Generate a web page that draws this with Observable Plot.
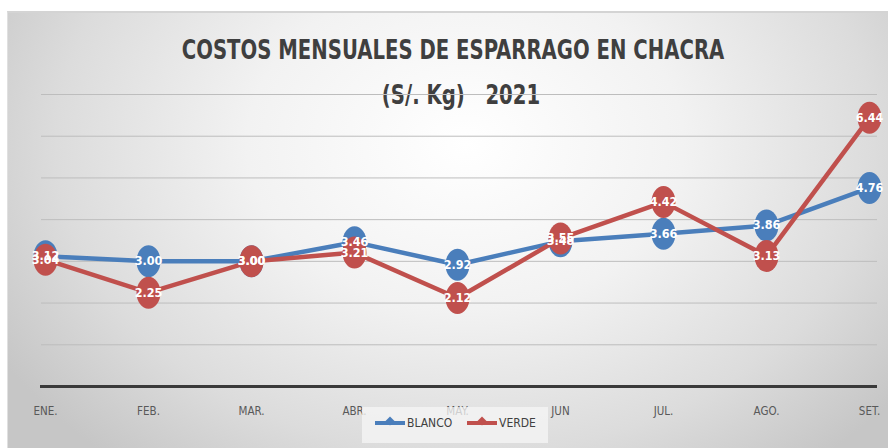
<!DOCTYPE html>
<html>
<head>
<meta charset="utf-8">
<script src="https://cdn.jsdelivr.net/npm/d3@7"></script>
<script src="https://cdn.jsdelivr.net/npm/@observablehq/plot@0.6"></script>
<style>
  html, body { margin: 0; padding: 0; background: #ffffff; }
  #wrap { position: relative; width: 888px; height: 448px; overflow: hidden; }
  #bg { position: absolute; left: 7px; top: 11px; right: 0; bottom: 0;
        background: radial-gradient(ellipse 62% 95% at 52% 30%, #ffffff 0%, #f2f2f2 40%, #dcdcdc 75%, #c6c6c6 100%);
        border-top: 2px solid #d4d4d4; border-left: 1px solid #e0e0e0; }
  .title { position: absolute; left: 0; width: 906px; text-align: center;
           font-family: "DejaVu Sans Condensed", sans-serif; font-weight: bold;
           color: #3f3f3f; font-size: 27px; transform: scaleX(0.81); }
  #chart { position: absolute; left: 0; top: 0; }
  #legend { position: absolute; left: 362px; top: 407px; width: 186px; height: 36px;
            background: rgba(245,245,245,0.75); }
  .lg { position: absolute; top: 9px; font-family: "DejaVu Sans Condensed", sans-serif;
        font-size: 12px; color: #404040; display: flex; align-items: center; }
  .sw { width: 30px; height: 4px; position: relative; margin-right: 2px; }
  .sw i { position: absolute; left: 11px; top: -4px; width: 8px; height: 8px; transform: rotate(45deg) scale(0.8); }
</style>
</head>
<body>
<div id="wrap">
  <div id="bg"></div>
  <div class="title" style="top:34px;">COSTOS MENSUALES DE ESPARRAGO EN CHACRA</div>
  <div class="title" style="top:79px; left:8px;">(S/. Kg)&nbsp;&nbsp; 2021</div>
  <div id="chart"></div>
  <div id="legend">
    <div class="lg" style="left:13px;"><span class="sw" style="background:#4a7ebb"><i style="background:#4a7ebb"></i></span>BLANCO</div>
    <div class="lg" style="left:105px;"><span class="sw" style="background:#c0504d"><i style="background:#c0504d"></i></span>VERDE</div>
  </div>
</div>
<script>
const months = ["ENE.", "FEB.", "MAR.", "ABR.", "MAY.", "JUN", "JUL.", "AGO.", "SET."];
const blanco = [3.12, 3.00, 3.00, 3.46, 2.92, 3.48, 3.66, 3.86, 4.76];
const verde  = [3.04, 2.25, 3.00, 3.21, 2.12, 3.55, 4.42, 3.13, 6.44];
const gridValues = [1, 2, 3, 4, 5, 6, 7];

const colors = { BLANCO: "#4a7ebb", VERDE: "#c0504d" };
const rows = [];
months.forEach((m, i) => rows.push({ month: m, serie: "BLANCO", value: blanco[i] }));
months.forEach((m, i) => rows.push({ month: m, serie: "VERDE", value: verde[i] }));
const bl = rows.filter(d => d.serie === "BLANCO");
const vd = rows.filter(d => d.serie === "VERDE");

// ellipse symbol (markers are taller than wide)
const ellipse = {
  draw(ctx, size) {
    const rx = 12, ry = 16, k = 0.5523;
    ctx.moveTo(rx, 0);
    ctx.bezierCurveTo(rx, ry * k, rx * k, ry, 0, ry);
    ctx.bezierCurveTo(-rx * k, ry, -rx, ry * k, -rx, 0);
    ctx.bezierCurveTo(-rx, -ry * k, -rx * k, -ry, 0, -ry);
    ctx.bezierCurveTo(rx * k, -ry, rx, -ry * k, rx, 0);
    ctx.closePath();
  }
};

const font = "'DejaVu Sans Condensed', sans-serif";

const chart = Plot.plot({
  width: 888,
  height: 448,
  marginLeft: 42,
  marginRight: 16,
  marginTop: 94,
  marginBottom: 62,
  style: { background: "transparent", fontFamily: font },
  x: { type: "point", domain: months, padding: 0, label: null },
  y: { domain: [0, 7], axis: null },
  marks: [
    Plot.ruleY(gridValues, { stroke: "#bdbdbd", strokeWidth: 1, insetLeft: -1, insetRight: -5 }),
    Plot.ruleY([0], { stroke: "#3a3a3a", strokeWidth: 3, insetLeft: -2, insetRight: -5 }),
    Plot.axisX({ tickSize: 0, tickPadding: 20, fontSize: 11.5, fill: "#595959", label: null }),
    Plot.line(bl, { x: "month", y: "value", stroke: colors.BLANCO, strokeWidth: 4.5 }),
    Plot.dot(bl, { x: "month", y: "value", symbol: ellipse, fill: colors.BLANCO, r: 10 }),
    Plot.line(vd, { x: "month", y: "value", stroke: colors.VERDE, strokeWidth: 4.5 }),
    Plot.dot(vd, { x: "month", y: "value", symbol: ellipse, fill: colors.VERDE, r: 10 }),
    Plot.text(rows, { x: "month", y: "value", text: d => d.value.toFixed(2), fill: "white",
      fontWeight: "bold", fontSize: 12.5, fontFamily: font })
  ]
});
document.getElementById("chart").appendChild(chart);
</script>
</body>
</html>
